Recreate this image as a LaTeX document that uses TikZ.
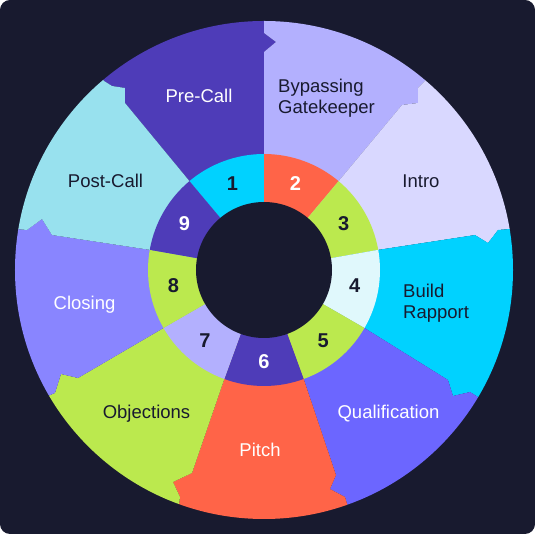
\documentclass[tikz,border=0pt]{standalone}
\usepackage{fontspec}
\setmainfont{Liberation Sans}
\definecolor{bg}{HTML}{181A2F}
\definecolor{ink}{HTML}{181A2F}
\definecolor{deeppurple}{HTML}{4E3CB8}
\definecolor{lavender}{HTML}{B3B0FE}
\definecolor{palelav}{HTML}{D9D8FF}
\definecolor{cyanc}{HTML}{00D2FF}
\definecolor{periw}{HTML}{6C66FF}
\definecolor{coral}{HTML}{FF6448}
\definecolor{lime}{HTML}{BBE94E}
\definecolor{midperiw}{HTML}{8985FF}
\definecolor{lightcyan}{HTML}{98E1EE}
\definecolor{icecyan}{HTML}{E0F8FC}
\begin{document}
\begin{tikzpicture}[x=1pt,y=1pt,
    lbl/.style={font=\fontsize{18.5}{21}\selectfont,inner sep=0pt},
    num/.style={font=\fontsize{20}{20}\selectfont\bfseries,inner sep=0pt}]
    \useasboundingbox (-264,-264) rectangle (271,270);
    \fill[white] (-264,-264) rectangle (271,270);
    \fill[bg,rounded corners=10pt] (-264,-264) rectangle (271,270);
    \begin{scope}
        \clip (0,0) circle (249);
        \fill[deeppurple] (0,0) -- (130:116) -- (-139,167) -- (-139,182) -- (-152,184) -- (-160,189) -- (-195,235) -- (0,300) -- (0,237) -- (12,228) -- (0,218) -- (90:116) -- cycle;
        \fill[lavender] (0,0) -- (90:116) -- (0,218) -- (12,228) -- (0,237) -- (0,300) -- (200,235) -- (159,187) -- (154,182) -- (154,167) -- (138,165) -- (50:116) -- cycle;
        \fill[palelav] (0,0) -- (50:116) -- (138,165) -- (154,167) -- (154,182) -- (159,187) -- (200,235) -- (300,45) -- (246,41) -- (234,40) -- (224,27) -- (211,35) -- (10:116) -- cycle;
        \fill[cyanc] (0,0) -- (10:116) -- (211,35) -- (224,27) -- (234,40) -- (246,41) -- (300,45) -- (260,-155) -- (214,-127) -- (206,-122) -- (189,-126) -- (184,-110) -- (-30:116) -- cycle;
        \fill[periw] (0,0) -- (-30:116) -- (184,-110) -- (189,-126) -- (206,-122) -- (214,-127) -- (260,-155) -- (100,-290) -- (84,-237) -- (81,-227) -- (66,-219) -- (72,-205) -- (-70:116) -- cycle;
        \fill[coral] (0,0) -- (-70:116) -- (72,-205) -- (66,-219) -- (81,-227) -- (84,-237) -- (100,-290) -- (-100,-290) -- (-85,-235) -- (-84,-227) -- (-91,-212) -- (-72,-203) -- (-110:116) -- cycle;
        \fill[lime] (0,0) -- (-110:116) -- (-72,-203) -- (-91,-212) -- (-84,-227) -- (-85,-235) -- (-100,-290) -- (-260,-150) -- (-216,-126) -- (-209,-123) -- (-203,-104) -- (-186,-108) -- (-150:116) -- cycle;
        \fill[midperiw] (0,0) -- (-150:116) -- (-186,-108) -- (-203,-104) -- (-209,-123) -- (-216,-126) -- (-260,-150) -- (-300,50) -- (-248,41) -- (-237,40) -- (-222,51) -- (-212,35) -- (170:116) -- cycle;
        \fill[lightcyan] (0,0) -- (170:116) -- (-212,35) -- (-222,51) -- (-237,40) -- (-248,41) -- (-300,50) -- (-195,235) -- (-160,189) -- (-152,184) -- (-139,182) -- (-139,167) -- (130:116) -- cycle;
    \end{scope}
    \foreach \c/\t [count=\i] in {cyanc/ink,coral/white,lime/ink,icecyan/ink,lime/ink,deeppurple/white,lavender/ink,lime/ink,deeppurple/white}{
        \fill[\c] (0,0) -- ({130-40*(\i-1)}:116) arc[start angle={130-40*(\i-1)},end angle={90-40*(\i-1)},radius=116] -- cycle;
        \node[num,text=\t] (n\i) at ({110-40*(\i-1)}:92) {\i};
    }
    \fill[bg] (0,0) circle (68);
    \node[lbl,text=white,anchor=base] (precall) at (-65,167) {Pre-Call};
    \node[lbl,text=ink,anchor=west,align=left] (bypass) at (14,172) {Bypassing\\Gatekeeper};
    \node[lbl,text=ink,anchor=base] (intro) at (157,82) {Intro};
    \node[lbl,text=ink,anchor=west,align=left] (rapport) at (139,-33) {Build\\Rapport};
    \node[lbl,text=white,anchor=base] (qual) at (124.5,-149) {Qualification};
    \node[lbl,text=white,anchor=base] (pitch) at (-4,-187) {Pitch};
    \node[lbl,text=ink,anchor=base] (objections) at (-117.5,-149) {Objections};
    \node[lbl,text=white,anchor=base] (closing) at (-179.5,-40) {Closing};
    \node[lbl,text=ink,anchor=base] (postcall) at (-158.5,82) {Post-Call};
\end{tikzpicture}
\end{document}
